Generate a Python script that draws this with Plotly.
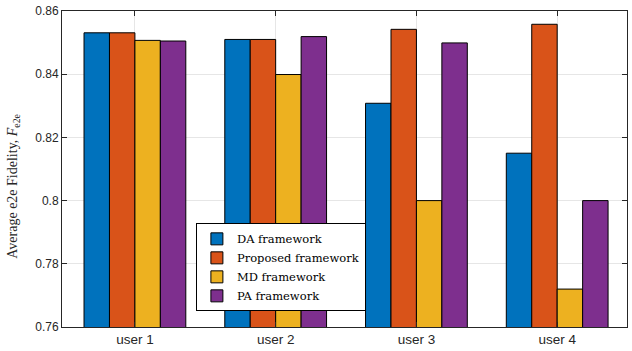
import plotly.graph_objects as go

categories = ["user 1", "user 2", "user 3", "user 4"]
series_names = ["DA framework", "Proposed framework", "MD framework", "PA framework"]
da_vals = [0.8531, 0.8510, 0.8308, 0.8150]
proposed_vals = [0.8531, 0.8510, 0.8542, 0.8558]
md_vals = [0.8507, 0.8399, 0.8000, 0.7720]
pa_vals = [0.8505, 0.8519, 0.8499, 0.8000]
colors = ["#0072BD", "#D95319", "#EDB120", "#7E2F8E"]
y_ticks = [0.76, 0.78, 0.80, 0.82, 0.84, 0.86]
y_ticktext = ["0.76", "0.78", "0.8", "0.82", "0.84", "0.86"]

fig = go.Figure()
for name, vals, c in zip(series_names, [da_vals, proposed_vals, md_vals, pa_vals], colors):
    fig.add_trace(go.Bar(x=categories, y=vals, name=name,
                         marker=dict(color=c, line=dict(color="#000000", width=1))))

axis_col = "#262626"
serif = "DejaVu Serif, Liberation Serif, serif"
fig.update_layout(
    width=632, height=351,
    margin=dict(l=62, r=4, t=11, b=22),
    plot_bgcolor="white", paper_bgcolor="white",
    barmode="group", bargap=0.277, bargroupgap=0,
    font=dict(family="Liberation Sans, Arial, sans-serif", size=12, color=axis_col),
    legend=dict(x=0.237, y=0.328, xanchor="left", yanchor="top",
                bgcolor="white", bordercolor="#000000", borderwidth=1,
                font=dict(family=serif, size=11.5, color="#000000"),
                tracegroupgap=0, itemwidth=30),
    showlegend=True,
    annotations=[dict(text="Average e2e Fidelity, <i>F</i><sub>e2e</sub>",
                      xref="paper", yref="paper", x=-0.085, y=0.447,
                      xanchor="center", yanchor="middle", textangle=-90,
                      showarrow=False,
                      font=dict(family="Liberation Serif, serif", size=14, color=axis_col))],
)
fig.update_xaxes(showline=True, linecolor=axis_col, linewidth=1, mirror="ticks",
                 ticks="inside", ticklen=5, tickcolor=axis_col,
                 showgrid=True, gridcolor="#e6e6e6", range=[-0.518, 3.496],
                 tickfont=dict(size=13.5))
fig.update_yaxes(range=[0.76, 0.86], tickvals=y_ticks, ticktext=y_ticktext,
                 showline=True, linecolor=axis_col, linewidth=1, mirror="ticks",
                 ticks="inside", ticklen=5, tickcolor=axis_col,
                 showgrid=True, gridcolor="#e6e6e6", zeroline=False,
                 tickfont=dict(size=12))

fig.write_html("out.html", config={"displayModeBar": False},
               post_script="document.body.style.margin='0';document.body.style.overflow='hidden';")
